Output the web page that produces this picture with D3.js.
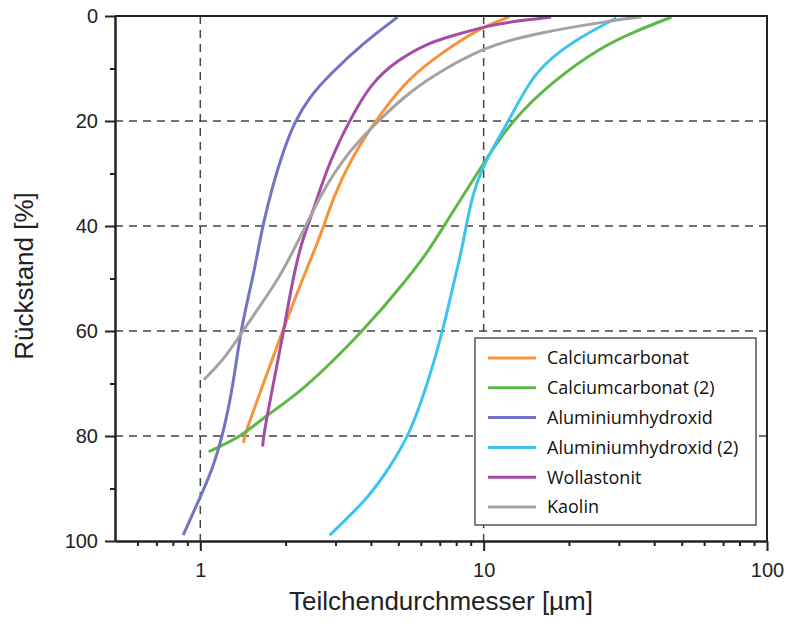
<!DOCTYPE html>
<html>
<head>
<meta charset="utf-8">
<script src="https://cdn.jsdelivr.net/npm/d3@7"></script>
<style>
  body { margin: 0; background: #fff; }
  svg { display: block; }
  .axis text { font-family: "Liberation Sans", Arial, sans-serif; font-size: 20px; fill: #222; }
  .axis path, .axis line { stroke: #222; stroke-width: 2; }
  .grid { stroke: #444; stroke-width: 1.5; stroke-dasharray: 8,6; }
</style>
</head>
<body>
<script>
// Teilchendurchmesser [µm] vs Rückstand [%]
var seriesNames = ["Calciumcarbonat", "Calciumcarbonat (2)", "Aluminiumhydroxid",
                   "Aluminiumhydroxid (2)", "Wollastonit", "Kaolin"];
var seriesColors = ["#f7933a", "#5cb947", "#7373c6", "#3cc3f0", "#a54ca7", "#a3a3a3"];

var calciumcarbonat = [[1.42,81.3],[1.43,80],[1.67,70],[1.95,60],[2.30,50],[2.53,44.6],[2.72,40.2],
  [2.95,34.5],[3.39,27.4],[4.09,20.4],[5.23,12.8],[6.6,8.3],[8.1,5.0],[10.0,2],[12.3,0.2]];
var calciumcarbonat2 = [[1.07,83],[1.41,80],[1.67,76.4],[2.26,71.8],[3.77,60],[5.4,50],[6.41,44.6],
  [7.24,40],[10.0,28],[12.5,20],[17.7,12.2],[26,5.9],[34,3.0],[46,0.2]];
var aluminiumhydroxid = [[0.87,98.9],[1.0,91.6],[1.10,86.5],[1.20,80],[1.31,70],[1.385,60],[1.53,50],
  [1.60,44.6],[1.66,40],[1.81,31.8],[1.97,25.5],[2.15,20.2],[2.42,15.5],[2.88,11.0],[3.77,5.1],[4.97,0.2]];
var aluminiumhydroxid2 = [[2.86,98.9],[3.95,91.6],[4.65,86],[5.45,80],[6.35,70],[7.18,60],[7.9,50],
  [8.4,44.4],[9.0,35],[10.0,28],[12.3,20],[15.1,10.3],[20.9,4.6],[29.4,0.4]];
var wollastonit = [[1.66,82],[1.67,80],[1.81,70],[1.97,60],[2.12,50],[2.29,42.7],[2.39,40.2],[2.59,34.5],
  [2.88,27.4],[3.34,20.2],[3.99,12.8],[4.97,8.4],[6.35,5.1],[8.1,3.5],[10.0,2],[13.2,0.9],[17.3,0.2]];
var kaolin = [[1.03,69.3],[1.23,65],[1.41,60],[1.90,50],[2.13,44.6],[2.35,40.2],[2.63,34.5],[3.21,26.9],
  [4.09,20.8],[5.23,15.4],[6.51,11.6],[10.0,5.9],[15.1,3.3],[28.9,0.8],[36,0.2]];

var yTicks = [0, 20, 40, 60, 80, 100];
var yMinor = [10, 30, 50, 70, 90];
var xTicks = [1, 10, 100];
var xMinor = [0.6,0.7,0.8,0.9,2,3,4,5,6,7,8,9,20,30,40,50,60,70,80,90];

var allSeries = [calciumcarbonat, calciumcarbonat2, aluminiumhydroxid, aluminiumhydroxid2, wollastonit, kaolin];

var width = 787, height = 628;
var plotLeft = 115, plotRight = 767, plotTop = 16, plotBottom = 541;

var svg = d3.select("body").append("svg")
    .attr("width", width)
    .attr("height", height);

var x = d3.scaleLog().domain([0.5, 100]).range([plotLeft, plotRight]);
var y = d3.scaleLinear().domain([0, 100]).range([plotTop, plotBottom]);

// grid
svg.selectAll(".gx")
    .data(xTicks.slice(0, 2))
  .enter().append("line")
    .attr("class", "grid")
    .attr("x1", function(d) { return x(d); })
    .attr("x2", function(d) { return x(d); })
    .attr("y1", plotTop).attr("y2", plotBottom);

svg.selectAll(".gy")
    .data(yTicks.slice(1, 5))
  .enter().append("line")
    .attr("class", "grid")
    .attr("x1", plotLeft).attr("x2", plotRight)
    .attr("y1", function(d) { return y(d); })
    .attr("y2", function(d) { return y(d); });

// curves, basis spline to smooth out reading noise
var line = d3.line()
    .x(function(d) { return x(d[0]); })
    .y(function(d) { return y(d[1]); })
    .curve(d3.curveBasis);

svg.selectAll(".curve")
    .data(allSeries)
  .enter().append("path")
    .attr("class", "curve")
    .attr("fill", "none")
    .attr("stroke", function(d, i) { return seriesColors[i]; })
    .attr("stroke-width", 3)
    .attr("d", line);

// axes
svg.append("g")
    .attr("class", "axis")
    .attr("transform", "translate(" + plotLeft + ",0)")
    .call(d3.axisLeft(y).tickValues(yTicks).tickSize(10).tickPadding(7).tickSizeOuter(0));

svg.append("g")
    .attr("class", "axis")
    .attr("transform", "translate(" + plotLeft + ",0)")
    .call(d3.axisLeft(y).tickValues(yMinor).tickSize(5).tickFormat("").tickSizeOuter(0));

svg.append("g")
    .attr("class", "axis")
    .attr("transform", "translate(0," + plotBottom + ")")
    .call(d3.axisBottom(x).tickValues(xTicks).tickSize(10).tickPadding(12)
      .tickFormat(d3.format("d")).tickSizeOuter(0));

svg.append("g")
    .attr("class", "axis")
    .attr("transform", "translate(0," + plotBottom + ")")
    .call(d3.axisBottom(x).tickValues(xMinor).tickSize(5).tickFormat("").tickSizeOuter(0));

// box top/right
svg.append("path")
    .attr("d", "M" + plotLeft + "," + plotTop + "H" + plotRight + "V" + plotBottom)
    .attr("fill", "none")
    .attr("stroke", "#222")
    .attr("stroke-width", 2);

// titles
svg.append("text")
    .attr("x", (plotLeft + plotRight) / 2)
    .attr("y", 610)
    .attr("text-anchor", "middle")
    .style("font-family", "'Liberation Sans', Arial, sans-serif")
    .style("font-size", "26px")
    .style("fill", "#222")
    .text("Teilchendurchmesser [µm]");

svg.append("text")
    .attr("transform", "translate(33,276) rotate(-90)")
    .attr("text-anchor", "middle")
    .style("font-family", "'Liberation Sans', Arial, sans-serif")
    .style("font-size", "26px")
    .style("fill", "#222")
    .text("Rückstand [%]");

// legend
var legend = svg.append("g").attr("transform", "translate(475,338)");

legend.append("rect")
    .attr("width", 281)
    .attr("height", 187)
    .attr("fill", "#fff")
    .attr("stroke", "#555")
    .attr("stroke-width", 1.5);

var item = legend.selectAll(".item")
    .data(seriesNames)
  .enter().append("g")
    .attr("class", "item")
    .attr("transform", function(d, i) { return "translate(0," + (20 + i * 29.8) + ")"; });

item.append("line")
    .attr("x1", 13).attr("x2", 61)
    .attr("stroke", function(d, i) { return seriesColors[i]; })
    .attr("stroke-width", 3);

item.append("text")
    .attr("x", 72)
    .attr("dy", "0.35em")
    .style("font-family", "'Open Sans', sans-serif")
    .style("font-size", "18px")
    .style("fill", "#111")
    .text(function(d) { return d; });
</script>
</body>
</html>
